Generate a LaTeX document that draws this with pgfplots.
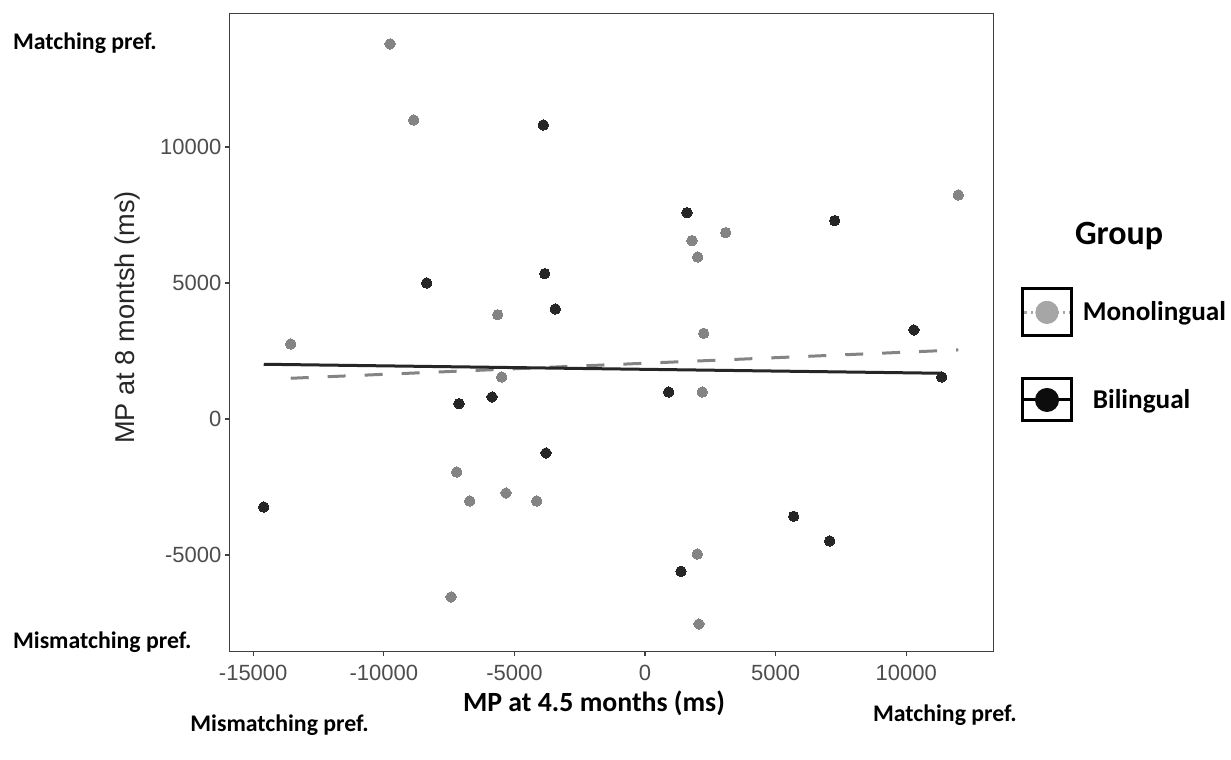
\documentclass[border=0pt]{standalone}
\usepackage{pgfplots}
\pgfplotsset{compat=1.18}
\usepackage{pgfplotstable}
\usepackage{fontspec}
\setmainfont{Liberation Sans}
\newfontfamily\calib{Carlito}
\definecolor{mono}{HTML}{848484}
\definecolor{bili}{HTML}{262626}
\definecolor{monolight}{HTML}{A6A6A6}
\definecolor{ticklab}{HTML}{4D4D4D}
\definecolor{frame}{HTML}{404040}

\pgfplotstableread{
x y
-9762 13786
-8854 10991
-13563 2757
-5639 3834
-5486 1544
-7208 -1948
-6711 -3014
-5321 -2720
-4146 -3014
-7426 -6543
1799 6554
2017 5955
3089 6849
11994 8234
2247 3150
2193 993
2002 -4963
2067 -7536
}\monotab

\pgfplotstableread{
x y
-3893 10807
-8357 4999
-3840 5342
-3434 4044
-14596 -3235
-7120 563
-5857 809
-3790 -1250
1608 7584
7262 7290
10297 3272
907 993
11358 1544
5692 -3577
7070 -4485
1378 -5599
}\bilitab

\begin{document}
\begin{tikzpicture}
\useasboundingbox (-114.65pt,-54.15pt) rectangle (500.85pt,325.85pt);
\begin{axis}[
  scale only axis, width=382pt, height=318.9pt,
  xmin=-15915, xmax=13335, ymin=-8555, ymax=14890,
  scaled ticks=false,
  xtick={-15000,-10000,-5000,0,5000,10000},
  xticklabels={-15000,-10000,-5000,0,5000,10000},
  ytick={-5000,0,5000,10000},
  yticklabels={-5000,0,5000,10000},
  tick align=outside, tick pos=left,
  major tick length=2.2pt,
  axis line style={frame, line width=0.6pt},
  every tick/.style={frame, line width=0.6pt},
  ticklabel style={font=\fontsize{11}{13}\selectfont, text=ticklab},
  yticklabel style={inner sep=1.6pt},
  xticklabel style={inner sep=2pt, yshift=-2.5pt},
  xlabel={\calib\bfseries MP at 4.5 months (ms)},
  xlabel style={font=\fontsize{13.9}{16}\selectfont, at={(axis description cs:0.4774,-0.0930)}, anchor=base},
  ylabel={MP at 8 montsh (ms)},
  ylabel style={font=\fontsize{13.6}{16}\selectfont, text=black!85, at={(axis description cs:-0.1339,0.524)}, anchor=center},
  legend style={at={(axis description cs:1.036,0.572)}, anchor=north west, draw=none, fill=none,
    font=\calib\bfseries\fontsize{13.6}{16}\selectfont, inner sep=0pt, row sep=20pt,
    nodes={inner sep=0pt}},
  legend cell align=left,
  /tikz/every odd column/.append style={column sep=5pt},
]
\addlegendimage{legend image code/.code={
  \draw[line width=1.5pt, black] (0pt,-11.8pt) rectangle (24.3pt,11.8pt);
  \draw[monolight, line width=1.2pt, dash pattern=on 1.2pt off 2pt] (0.8pt,0pt) -- (23.5pt,0pt);
  \fill[monolight] (12.15pt,0pt) circle (5.6pt);
}}
\addlegendentry{Monolingual}
\addlegendimage{legend image code/.code={
  \draw[line width=1.5pt, black] (0pt,-10.5pt) rectangle (24.3pt,10.5pt);
  \draw[black, line width=1.5pt] (0pt,0pt) -- (24.3pt,0pt);
  \fill[black!95] (12.15pt,0pt) circle (5.8pt);
}}
\addlegendentry{\hspace{5pt}Bilingual}

\addplot[forget plot, mono, only marks, mark=*, mark size=2.6pt, mark options={draw=mono, fill=mono, line width=0pt}] table[x=x, y=y] {\monotab};
\addplot[forget plot, bili, only marks, mark=*, mark size=2.6pt, mark options={draw=bili, fill=bili, line width=0pt}] table[x=x, y=y] {\bilitab};
\addplot[forget plot, mono, line width=1.5pt, dash pattern=on 9pt off 9.5pt] coordinates {(-13563,1496) (11994,2538)};
\addplot[forget plot, bili, line width=1.5pt] coordinates {(-14596,2011) (11358,1680)};
\end{axis}
\node[anchor=base west, inner sep=0pt, font=\calib\bfseries\fontsize{11.9}{14}\selectfont] at (-108.3pt,300.85pt) {Matching pref.};
\node[anchor=base west, inner sep=0pt, font=\calib\bfseries\fontsize{11.9}{14}\selectfont] at (-108.3pt,1.7pt) {Mismatching pref.};
\node[anchor=base west, inner sep=0pt, font=\calib\bfseries\fontsize{11.9}{14}\selectfont] at (321.7pt,-34.65pt) {Matching pref.};
\node[anchor=base west, inner sep=0pt, font=\calib\bfseries\fontsize{11.9}{14}\selectfont] at (-19.65pt,-39.65pt) {Mismatching pref.};
\node[anchor=base, inner sep=0pt, font=\calib\bfseries\fontsize{17}{20}\selectfont] at (444.9pt,203.7pt) {Group};
\end{tikzpicture}
\end{document}
